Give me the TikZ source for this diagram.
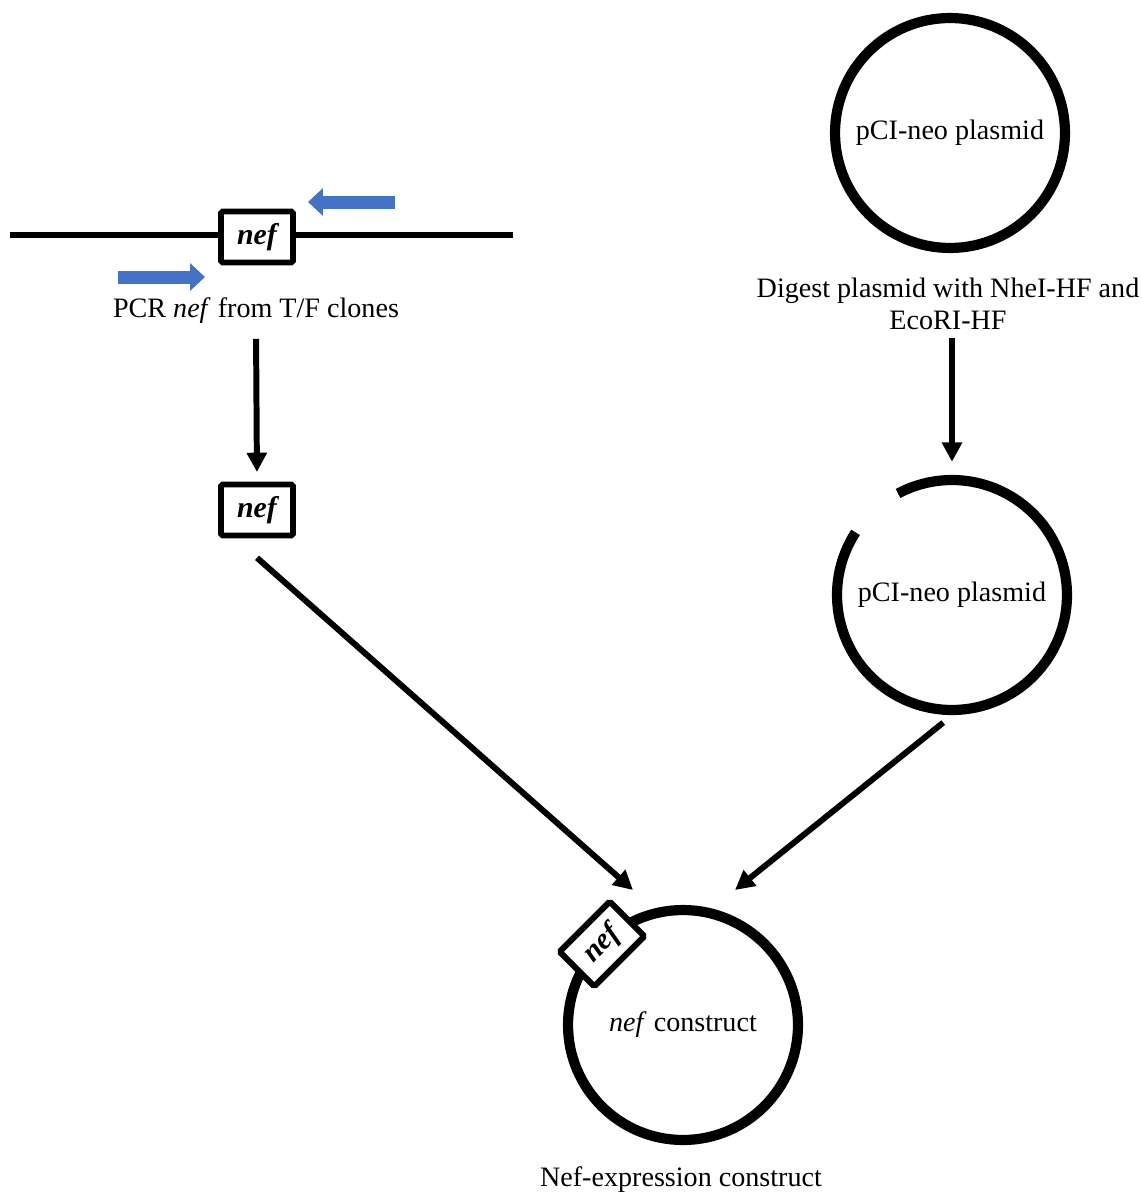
\documentclass[tikz,border=0pt]{standalone}
\usepackage{fontspec}
\setmainfont{Liberation Serif}
\usetikzlibrary{arrows.meta}
\definecolor{primerblue}{HTML}{4472C4}

\begin{document}
\begin{tikzpicture}[x=0.02cm, y=-0.02cm,
    every node/.style={font=\fontsize{16}{18.6}\selectfont},
    ring/.style={draw, line width=5.8pt},
    plasmid/.style={circle, minimum size=4.6cm, inner sep=0pt},
    genebox/.style={draw, fill=white, line width=3.4pt, rounded corners=1pt,
      minimum width=1.44cm, minimum height=1.02cm, inner sep=0pt,
      font=\fontsize{17}{19}\selectfont\bfseries\itshape},
    flow/.style={line width=3.4pt, -{Triangle[length=11pt,width=11pt]}},
    primer/.style={primerblue, line width=7.4pt, -{Triangle[length=8.5pt,width=15.3pt]}},
    dna/.style={line width=3.6pt}]

    \useasboundingbox (0,0) rectangle (1142,1193);

    % PCR of nef
    \coordinate (dnaL) at (10,235);
    \coordinate (dnaR) at (513,235);
    \draw[dna] (dnaL) -- (dnaR);
    \node[genebox] (neftop) at (257,237) {nef};
    \draw[primer] (395,202) -- (308,202);
    \draw[primer] (118,277) -- (205,277);
    \node (pcr) at (256,311) {PCR \textit{nef} from T/F clones};
    \node[genebox] (nefmid) at (257,510) {nef};

    % plasmid digest
    \node[plasmid, ring] (plasmid) at (950,133) {\raisebox{-3pt}{pCI-neo plasmid}};
    \node[align=center] (digest) at (948,304) {Digest plasmid with NheI-HF and\\EcoRI-HF};
    \node[plasmid] (cutplasmid) at (952,595) {\raisebox{-3pt}{pCI-neo plasmid}};
    \draw[ring] (cutplasmid.center) ++(147:2.3cm) arc[start angle=147, end angle=478, radius=2.3cm];

    % ligation
    \node[plasmid, ring] (construct) at (683,1025) {\raisebox{-2pt}{\textit{nef} construct}};
    \node[genebox, rotate=45, minimum width=1.42cm, minimum height=0.98cm] (nefins) at (602,944) {nef};
    \node (final) at (681,1180) {Nef-expression construct};

    % arrows
    \coordinate (inL) at (633,890);
    \coordinate (inR) at (735,890);
    \draw[flow, shorten <=5pt, shorten >=5.4pt] (pcr.south) -- (nefmid.north);
    \draw[flow, shorten <=1pt, shorten >=10.2pt] (digest.south -| cutplasmid) -- (cutplasmid.north);
    \draw[flow] ([yshift=-11pt]nefmid.south) -- (inL);
    \draw[flow] ([xshift=-5pt,yshift=-7pt]cutplasmid.south) -- (inR);
\end{tikzpicture}
\end{document}
